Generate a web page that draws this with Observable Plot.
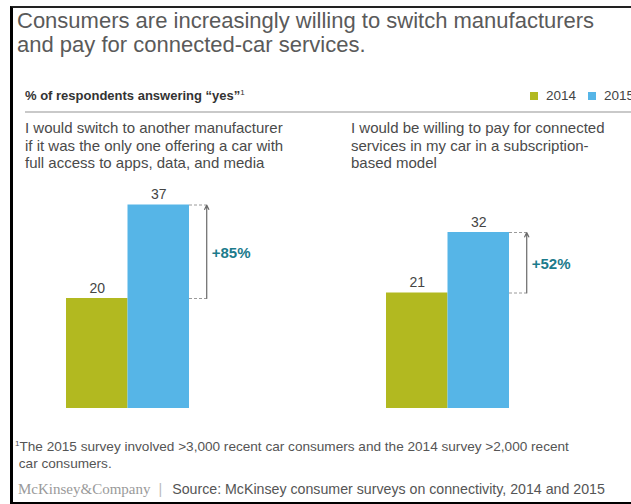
<!DOCTYPE html>
<html>
<head>
<meta charset="utf-8">
<script src="https://cdn.jsdelivr.net/npm/d3@7"></script>
<script src="https://cdn.jsdelivr.net/npm/@observablehq/plot@0.6"></script>
<style>
  html, body { margin: 0; padding: 0; background: #fff; }
  #wrap { position: relative; width: 631px; height: 504px; overflow: hidden; background: #fff;
          font-family: "Liberation Sans", Arial, Helvetica, sans-serif; }
  #frame { position: absolute; left: 10px; top: 6px; width: 700px; height: 494px;
           border-left: 3px solid #000; border-top: 2px solid #222; border-bottom: 2px solid #000; }
  .abs { position: absolute; white-space: nowrap; }
  #title { left: 17px; top: 9px; font-size: 22px; line-height: 23.5px; color: #5a5a5a; }
  #subtitle { left: 25px; top: 88px; font-size: 13px; line-height: 16px; font-weight: bold; color: #333; }
  #subtitle sup { font-size: 8px; font-weight: normal; vertical-align: 5px; line-height: 0; }
  .leg { top: 88px; font-size: 13.5px; line-height: 16px; color: #444; }
  .sw { display: inline-block; width: 8px; height: 8px; margin-right: 8px; vertical-align: 0px; }
  #rule { position: absolute; left: 25px; right: 0; top: 111px; height: 1.5px; background: #c9c9c9; }
  .panel { top: 119px; font-size: 15px; line-height: 17.5px; color: #4a4a4a; }
  #foot { left: 15px; top: 439px; font-size: 13.6px; line-height: 16.5px; color: #555; }
  #foot sup { font-size: 8px; vertical-align: 5px; line-height: 0; }
  #source { left: 18px; top: 481px; font-size: 14.2px; line-height: 16px; color: #555; }
  #source .mck { font-family: "Liberation Serif", "DejaVu Serif", serif; color: #9a9a9a; font-size: 15px; }
  #source .bar { color: #bbb; margin: 0 10px 0 8px; }
  #chart { position: absolute; left: 0; top: 175px; }
</style>
</head>
<body>
<div id="wrap">
  <div id="frame"></div>
  <div id="title" class="abs">Consumers are increasingly willing to switch manufacturers<br>and pay for connected-car services.</div>
  <div id="subtitle" class="abs">% of respondents answering “yes”<sup>1</sup></div>
  <div id="legend"></div>
  <div id="rule"></div>
  <div id="panels"></div>
  <div id="chart"></div>
  <div id="foot" class="abs"><sup>1</sup>The 2015 survey involved &gt;3,000 recent car consumers and the 2014 survey &gt;2,000 recent<br>&nbsp;car consumers.</div>
  <div id="source" class="abs"><span class="mck">McKinsey&amp;Company</span><span class="bar">|</span>Source: McKinsey consumer surveys on connectivity, 2014 and 2015</div>
</div>
<script>
// ---- data ----
const questions = ["switch", "pay"];
const questionLines = [
  ["I would switch to another manufacturer", "if it was the only one offering a car with", "full access to apps, data, and media"],
  ["I would be willing to pay for connected", "services in my car in a subscription-", "based model"]
];
const years = ["2014", "2015"];
const values2014 = [20, 21];
const values2015 = [37, 32];
const changeLabels = ["+85%", "+52%"];
const colors = ["#b2b920", "#56b5e7"];

// ---- layout-only constants ----
const annotGap = 0.28; // gap to annotation arrow, in bar widths
const panelLeft = [25, 351];
const legendLeft = [530, 588];

// ---- tables ----
const bars = [];
questions.forEach((q, i) => {
  [values2014[i], values2015[i]].forEach((v, j) => bars.push({q, year: years[j], idx: j, value: v}));
});
const changes = questions.map((q, i) => ({q, v14: values2014[i], v15: values2015[i], label: changeLabels[i]}));

// ---- HTML text pieces ----
const legend = document.getElementById("legend");
years.forEach((y, j) => {
  const d = document.createElement("div");
  d.className = "abs leg";
  d.style.left = legendLeft[j] + "px";
  d.innerHTML = `<span class="sw" style="background:${colors[j]}"></span>${y}`;
  legend.appendChild(d);
});
const panels = document.getElementById("panels");
questionLines.forEach((lines, i) => {
  const d = document.createElement("div");
  d.className = "abs panel";
  d.style.left = panelLeft[i] + "px";
  d.innerHTML = lines.join("<br>");
  panels.appendChild(d);
});

// ---- chart ----
const chart = Plot.plot({
  width: 631,
  height: 240,
  marginLeft: 65,
  marginRight: 122,
  marginTop: 13,
  marginBottom: 7,
  style: {fontFamily: '"Liberation Sans", Arial, sans-serif', background: "transparent", overflow: "visible"},
  fx: {domain: questions, paddingInner: 0.6168, paddingOuter: 0, axis: null, label: null},
  x: {domain: [0, 2], axis: null},
  y: {domain: [0, 40], axis: null},
  color: {domain: years, range: colors},
  marks: [
    Plot.rectY(bars, {fx: "q", x1: "idx", x2: d => d.idx + 1, y: "value", fill: "year"}),
    Plot.text(bars, {fx: "q", x: d => d.idx + 0.5, y: "value", text: d => String(d.value),
                     lineAnchor: "bottom", dy: -6, fontSize: 14, fill: "#444"}),
    Plot.ruleY(bars, {fx: "q", y: "value", x1: 2, x2: 2 + annotGap,
                     stroke: "#9a9a9a", strokeDasharray: "3,2", strokeWidth: 1}),
    Plot.arrow(changes, {fx: "q", x1: 2 + annotGap, x2: 2 + annotGap, y1: "v14", y2: "v15",
                     stroke: "#6a6a6a", strokeWidth: 1.2, headLength: 6, headAngle: 50}),
    Plot.text(changes, {fx: "q", x: 2 + annotGap, y: d => (d.v14 + d.v15) / 2, text: "label",
                     textAnchor: "start", dx: 5, dy: 1, fontSize: 15, fontWeight: "bold", fill: "#1c7b8c"})
  ]
});
document.getElementById("chart").appendChild(chart);
</script>
</body>
</html>
